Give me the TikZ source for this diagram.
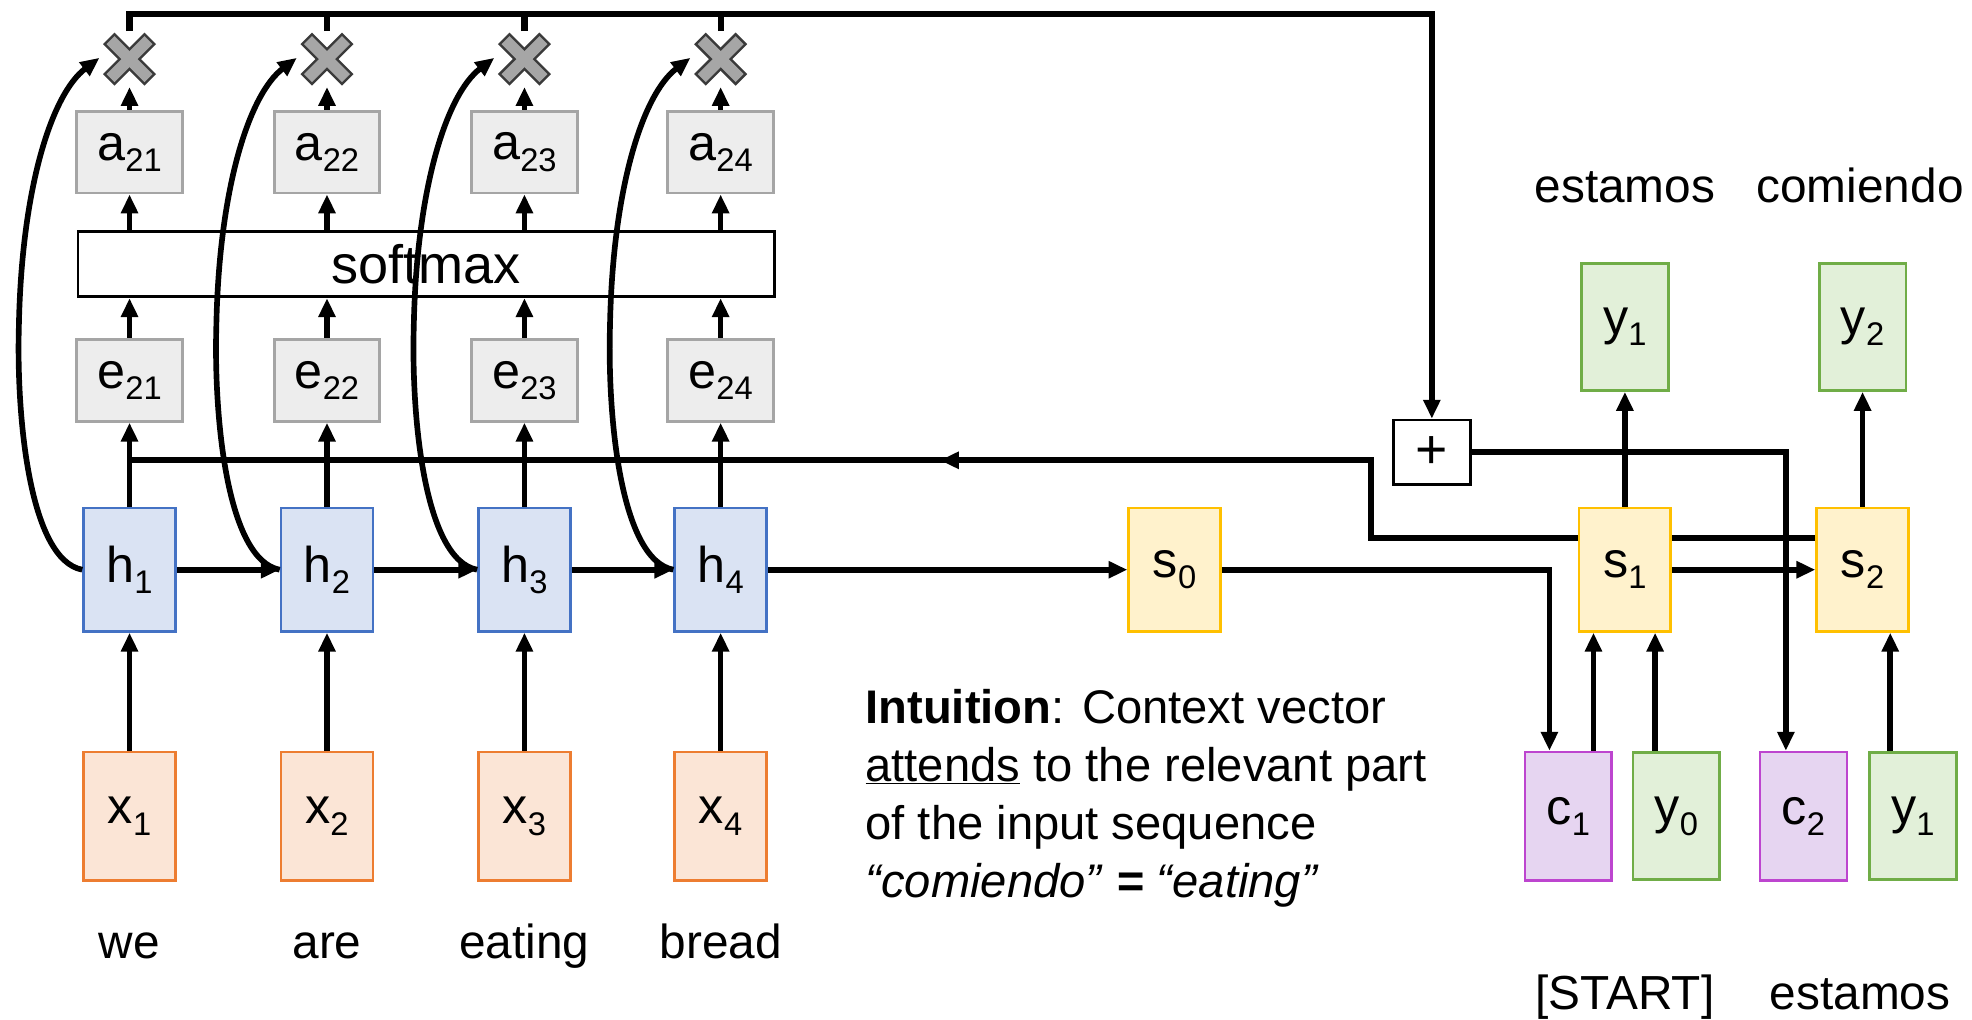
\documentclass[tikz,border=0pt]{standalone}
\usepackage{fontspec}
\setmainfont{Liberation Sans}
\usetikzlibrary{arrows.meta,calc,decorations.markings}
\pgfdeclarelayer{bg}\pgfdeclarelayer{fg}
\pgfsetlayers{bg,main,fg}
\definecolor{hF}{HTML}{DAE3F3}\definecolor{hB}{HTML}{4472C4}
\definecolor{xF}{HTML}{FBE5D6}\definecolor{xB}{HTML}{ED7D31}
\definecolor{gF}{HTML}{EDEDED}\definecolor{gB}{HTML}{A5A5A5}
\definecolor{sF}{HTML}{FFF2CC}\definecolor{sB}{HTML}{FFC000}
\definecolor{yF}{HTML}{E2F0D9}\definecolor{yB}{HTML}{70AD47}
\definecolor{cF}{HTML}{E6D5F1}\definecolor{cB}{HTML}{BD45CF}
\definecolor{crossF}{HTML}{A6A6A6}\definecolor{crossB}{HTML}{3A3A3A}
\newcommand{\sbs}[1]{\raisebox{-9pt}{\fontsize{26}{26}\selectfont #1}}
\tikzset{
  conn/.style={line width=4.5pt, draw=black},
  arr/.style={conn, -{Triangle[length=15pt,width=13pt]}},
  lbl/.style={inner sep=0pt, font=\fontsize{38}{46}\selectfont},
  bx/.style={draw, line width=2.2pt, inner sep=0pt, font=\fontsize{40}{46}\selectfont},
  hbox/.style={bx, draw=hB, fill=hF, minimum width=73pt, minimum height=98pt},
  xbox/.style={bx, draw=xB, fill=xF, minimum width=73pt, minimum height=102pt},
  gbox/.style={bx, draw=gB, fill=gF, minimum width=84pt, minimum height=65pt},
  sbox/.style={bx, draw=sB, fill=sF, minimum width=73pt, minimum height=98pt},
  ybox/.style={bx, draw=yB, fill=yF, minimum width=69pt, minimum height=101pt},
  cbox/.style={bx, draw=cB, fill=cF, minimum width=69pt, minimum height=102pt},
  mulnode/.style={minimum size=44pt, inner sep=0pt},
}
\begin{document}
\begin{tikzpicture}[x=1pt,y=-1pt]
\begin{pgfonlayer}{bg}
\fill[white] (0,0) rectangle (1568,811);
\end{pgfonlayer}
\useasboundingbox (0,0) rectangle (1568,811);

% encoder columns
\foreach \i/\cx/\w in {1/103/we,2/260/are,3/417/eating,4/573/bread}{
  \node[xbox] (x\i) at (\cx,649) {x\sbs{\i}};
  \node[hbox] (h\i) at (\cx,453) {h\sbs{\i}};
  \node[gbox] (e\i) at (\cx,302.5) {e\sbs{2\i}};
  \node[gbox] (a\i) at (\cx,121) {a\sbs{2\i}};
  \node[mulnode] (m\i) at (\cx,47) {};
  \node[lbl, anchor=base] (w\i) at (\cx,762) {\w};
}
\node[draw, line width=2.2pt, fill=white, minimum width=554pt, minimum height=52pt, inner sep=0pt,
      font=\fontsize{43}{46}\selectfont] (sm) at (339,210) {softmax};

% decoder
\node[sbox] (s0) at (934,453) {s\sbs{0}};
\node[sbox] (s1) at (1292,453) {s\sbs{1}};
\node[sbox] (s2) at (1481,453) {s\sbs{2}};
\node[ybox] (yt1) at (1292,260) {y\sbs{1}};
\node[ybox] (yt2) at (1481,260) {y\sbs{2}};
\node[cbox] (c1) at (1247,649) {c\sbs{1}};
\node[ybox] (y0) at (1333,649) {y\sbs{0}};
\node[cbox] (c2) at (1434,649) {c\sbs{2}};
\node[ybox] (yb1) at (1521,649) {y\sbs{1}};
\node[draw, line width=2.2pt, fill=white, minimum width=61pt, minimum height=51pt, inner sep=0pt,
      font=\fontsize{44}{46}\selectfont] (plus) at (1138.5,359.5) {+};

\node[lbl, anchor=base] (tw1) at (1292,161) {estamos};
\node[lbl, anchor=base] (tw2) at (1479,161) {comiendo};
\node[lbl, anchor=base] (bw1) at (1292,803) {[START]};
\node[lbl, anchor=base] (bw2) at (1479,803) {estamos};

\node[anchor=north west, inner sep=0pt, align=left, font=\fontsize{37.5}{46}\selectfont] (intu) at (688,548)
  {\textbf{Intuition}: Context vector\\ \underline{attends} to the relevant part\\ of the input sequence\\
   \textit{“comiendo”} \textbf{\textit{=}} \textit{“eating”}};

\coordinate (tp) at (1138.5,11);
\coordinate (j1) at (103,366);
\coordinate (bend) at (1090,366);

\begin{pgfonlayer}{bg}
  \foreach \i in {1,...,4}{
    \draw[arr] (x\i) -- (h\i);
    \draw[arr] (h\i) -- (e\i);
    \draw[arr] (e\i.north) -- (e\i.north |- sm.south);
    \draw[arr] (a\i.south |- sm.north) -- (a\i.south);
    \draw[arr] (a\i.north) -- (m\i.south);
  }
  \foreach \i in {2,3,4}{ \draw[conn, line width=5pt] (m\i.north) -- (m\i.north |- tp); }
  \draw[arr, line width=5pt] (m1.north) |- (tp) -- (plus.north);
  \draw[arr] (h1) -- (h2);
  \draw[arr] (h2) -- (h3);
  \draw[arr] (h3) -- (h4);
  \draw[arr] (h4) -- (s0);
  \draw[arr] (s0.east) -| ([xshift=-15pt]c1.north);
  \draw[arr] ([xshift=20pt]c1.north) -- ([xshift=20pt]c1.north |- s1.south);
  \draw[arr] ([xshift=-17pt]y0.north) -- ([xshift=-17pt]y0.north |- s1.south);
  \draw[arr] ([xshift=-18pt]yb1.north) -- ([xshift=-18pt]yb1.north |- s2.south);
  \draw[arr] (s1) -- (yt1);
  \draw[arr] (s2) -- (yt2);
  \draw[arr] (s1) -- (s2);
  \draw[arr] (plus.east) -| ([xshift=-14pt]c2.north);
  \draw[conn, postaction=decorate,
        decoration={markings, mark=at position 758pt with {\arrow{Triangle[length=15pt,width=13pt]}}}]
        ([yshift=25pt]s2.west) -| (bend) -- (j1);
\end{pgfonlayer}

\begin{pgfonlayer}{fg}
  \foreach \i/\cx in {1/103,2/260,3/417,4/573}{
    \draw[arr] (h\i.west) .. controls (\cx-80,445) and (\cx-90,330) .. (\cx-88,260)
                          .. controls (\cx-86,150) and (\cx-62,75) .. (\cx-24,46);
    \draw[line width=13pt, draw=crossB] ($(m\i)+(-16.5,-16.5)$) -- ($(m\i)+(16.5,16.5)$);
    \draw[line width=13pt, draw=crossB] ($(m\i)+(-16.5,16.5)$) -- ($(m\i)+(16.5,-16.5)$);
    \draw[line width=9pt, draw=crossF, shorten <=2pt, shorten >=2pt] ($(m\i)+(-16.5,-16.5)$) -- ($(m\i)+(16.5,16.5)$);
    \draw[line width=9pt, draw=crossF, shorten <=2pt, shorten >=2pt] ($(m\i)+(-16.5,16.5)$) -- ($(m\i)+(16.5,-16.5)$);
  }
\end{pgfonlayer}
\end{tikzpicture}
\end{document}
